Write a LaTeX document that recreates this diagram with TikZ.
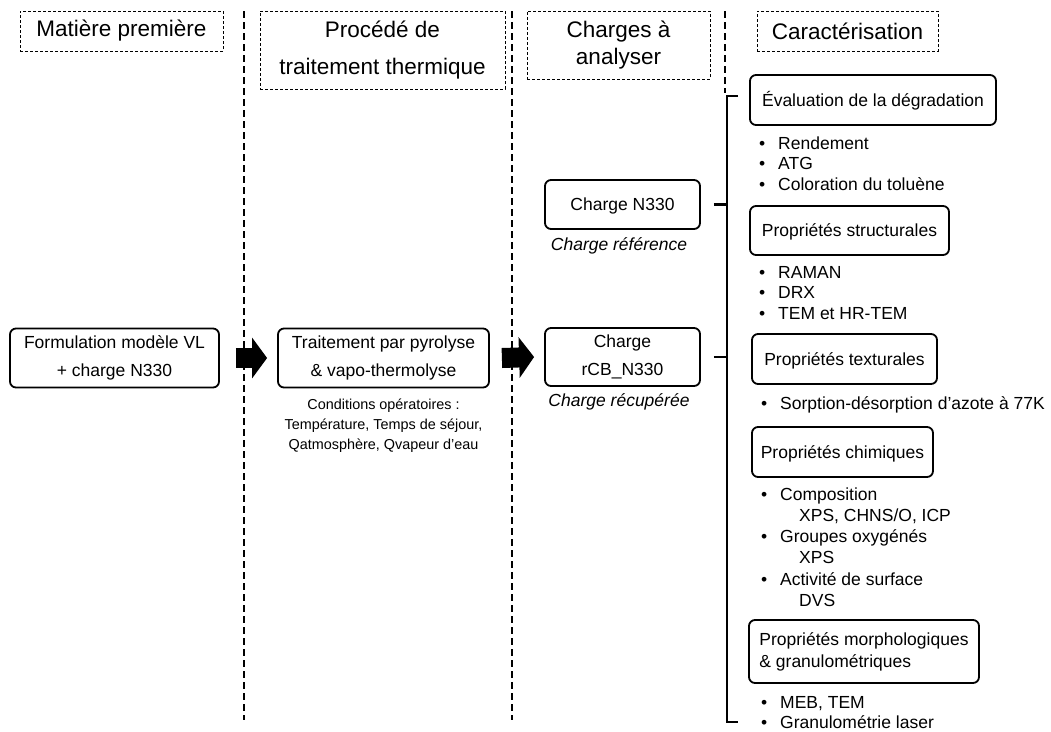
\documentclass[tikz,border=0pt]{standalone}
\usepackage{fontspec}
\setmainfont{Liberation Sans}
\usetikzlibrary{arrows.meta,calc}

% bullet item and indented sub-line for the measurement lists
\newcommand{\itm}[1]{\strut\makebox[20pt][l]{\hspace{1pt}•}#1}
\newcommand{\sub}[1]{\strut\hspace{39pt}#1}

\begin{document}
\begin{tikzpicture}[x=1pt,y=-1pt,
  hdr/.style={draw, dash pattern=on 3pt off 2pt, line width=0.8pt, inner sep=0pt,
              align=center},
  box/.style={draw, line width=1.8pt, rounded corners=6pt, inner sep=0pt,
              align=center, font=\fontsize{17.5}{28}\selectfont},
  onebox/.style={box, text height=12.5pt, text depth=0pt},
  lst/.style={anchor=north west, inner sep=0pt, align=left},
  sep/.style={line width=1.6pt, dash pattern=on 7pt off 4pt},
  brk/.style={line width=2.2pt},
  blockarrow/.style={line width=20pt, -{Triangle[length=15pt,width=40pt]}},
]
\useasboundingbox (0,0) rectangle (1051,731);

% column separators
\draw[sep] (244,11) -- (244,720);
\draw[sep] (512,11) -- (512,720);
\draw[sep] (725,11) -- (725,93);

% column headings
\node[hdr, minimum width=203pt, minimum height=40pt, font=\fontsize{22.5}{27}\selectfont]
  (h1) at (121.5,31) {Matière première};
\node[hdr, minimum width=245pt, minimum height=78pt, font=\fontsize{22.5}{37}\selectfont]
  (h2) at (382.5,50) {Procédé de\\traitement thermique};
\node[hdr, minimum width=183pt, minimum height=68pt, font=\fontsize{22.5}{27.5}\selectfont]
  (h3) at (618.5,45) {Charges à\\analyser};
\node[hdr, minimum width=181pt, minimum height=40pt, font=\fontsize{22.5}{27}\selectfont]
  (h4) at (847.5,31) {Caractérisation};

% process chain
\node[box, minimum width=209pt, minimum height=59pt] (form) at (114.5,358)
  {Formulation modèle VL\\+ charge N330};
\node[box, minimum width=211pt, minimum height=59pt] (trait) at (383.5,358)
  {Traitement par pyrolyse\\\& vapo-thermolyse};
\node[anchor=north, inner sep=0pt, align=center, font=\fontsize{14.4}{20}\selectfont]
  (cond) at (trait.south |- 0,399) {Conditions opératoires :\\Température, Temps de séjour,\\Qatmosphère, Qvapeur d’eau};

\node[onebox, minimum width=155pt, minimum height=49pt] (n330) at (622.5,204.5) {Charge N330};
\node[inner sep=0pt, font=\fontsize{17.5}{21}\itshape] (refl) at (619,246) {Charge référence};
\node[box, minimum width=155pt, minimum height=58pt] (rcb) at (622.5,357) {Charge\\rCB\_N330};
\node[inner sep=0pt, font=\fontsize{17.5}{21}\itshape] (recl) at (619,402) {Charge récupérée};

\draw[blockarrow] ($(form.east)+(16,0)$) -- ($(trait.west)+(-10,0)$);
\draw[blockarrow] ($(trait.east)+(12,0)$) -- ($(rcb.west)+(-10,0)$);

% characterisation groups
\node[onebox, minimum width=246pt, minimum height=50pt] (eval) at (873,100) {Évaluation de la dégradation};
\node[lst, font=\fontsize{17.5}{20.5}\selectfont] (evall) at (758,134.65)
  {\itm{Rendement}\\\itm{ATG}\\\itm{Coloration du toluène}};

\node[onebox, minimum width=199pt, minimum height=49pt] (struc) at (849.5,230.5) {Propriétés structurales};
\node[lst, font=\fontsize{17.5}{20.5}\selectfont] (strucl) at (758,263.65)
  {\itm{RAMAN}\\\itm{DRX}\\\itm{TEM et HR-TEM}};

\node[onebox, minimum width=185pt, minimum height=50pt] (textu) at (844.5,359) {Propriétés texturales};
\node[lst, font=\fontsize{17.5}{20.5}\selectfont] (textul) at (760,394.65)
  {\itm{Sorption-désorption d’azote à 77K}};

\node[onebox, minimum width=181pt, minimum height=50pt] (chim) at (842.5,452) {Propriétés chimiques};
\node[lst, font=\fontsize{17.5}{21.2}\selectfont] (chiml) at (760,485.16)
  {\itm{Composition}\\\sub{XPS, CHNS/O, ICP}\\\itm{Groupes oxygénés}\\\sub{XPS}\\\itm{Activité de surface}\\\sub{DVS}};

\node[box, align=left, font=\fontsize{17.5}{22}\selectfont, minimum width=230pt, minimum height=63pt]
  (morph) at (864,651.5) {Propriétés morphologiques\\\& granulométriques};
\node[lst, font=\fontsize{17.5}{20}\selectfont] (morphl) at (760,694)
  {\itm{MEB, TEM}\\\itm{Granulométrie laser}};

% bracket linking the analysed fillers to the characterisation groups
\coordinate (bt) at (727,96);
\coordinate (bb) at (727,722);
\draw[brk] ($(bt)+(11,0)$) -- (bt) -- (bb) -- ($(bb)+(11,0)$);
\draw[brk] ($(n330.east)+(13,0)$) -- (n330.east -| bt);
\draw[brk] ($(rcb.east)+(13,0)$) -- (rcb.east -| bt);
\end{tikzpicture}
\end{document}
